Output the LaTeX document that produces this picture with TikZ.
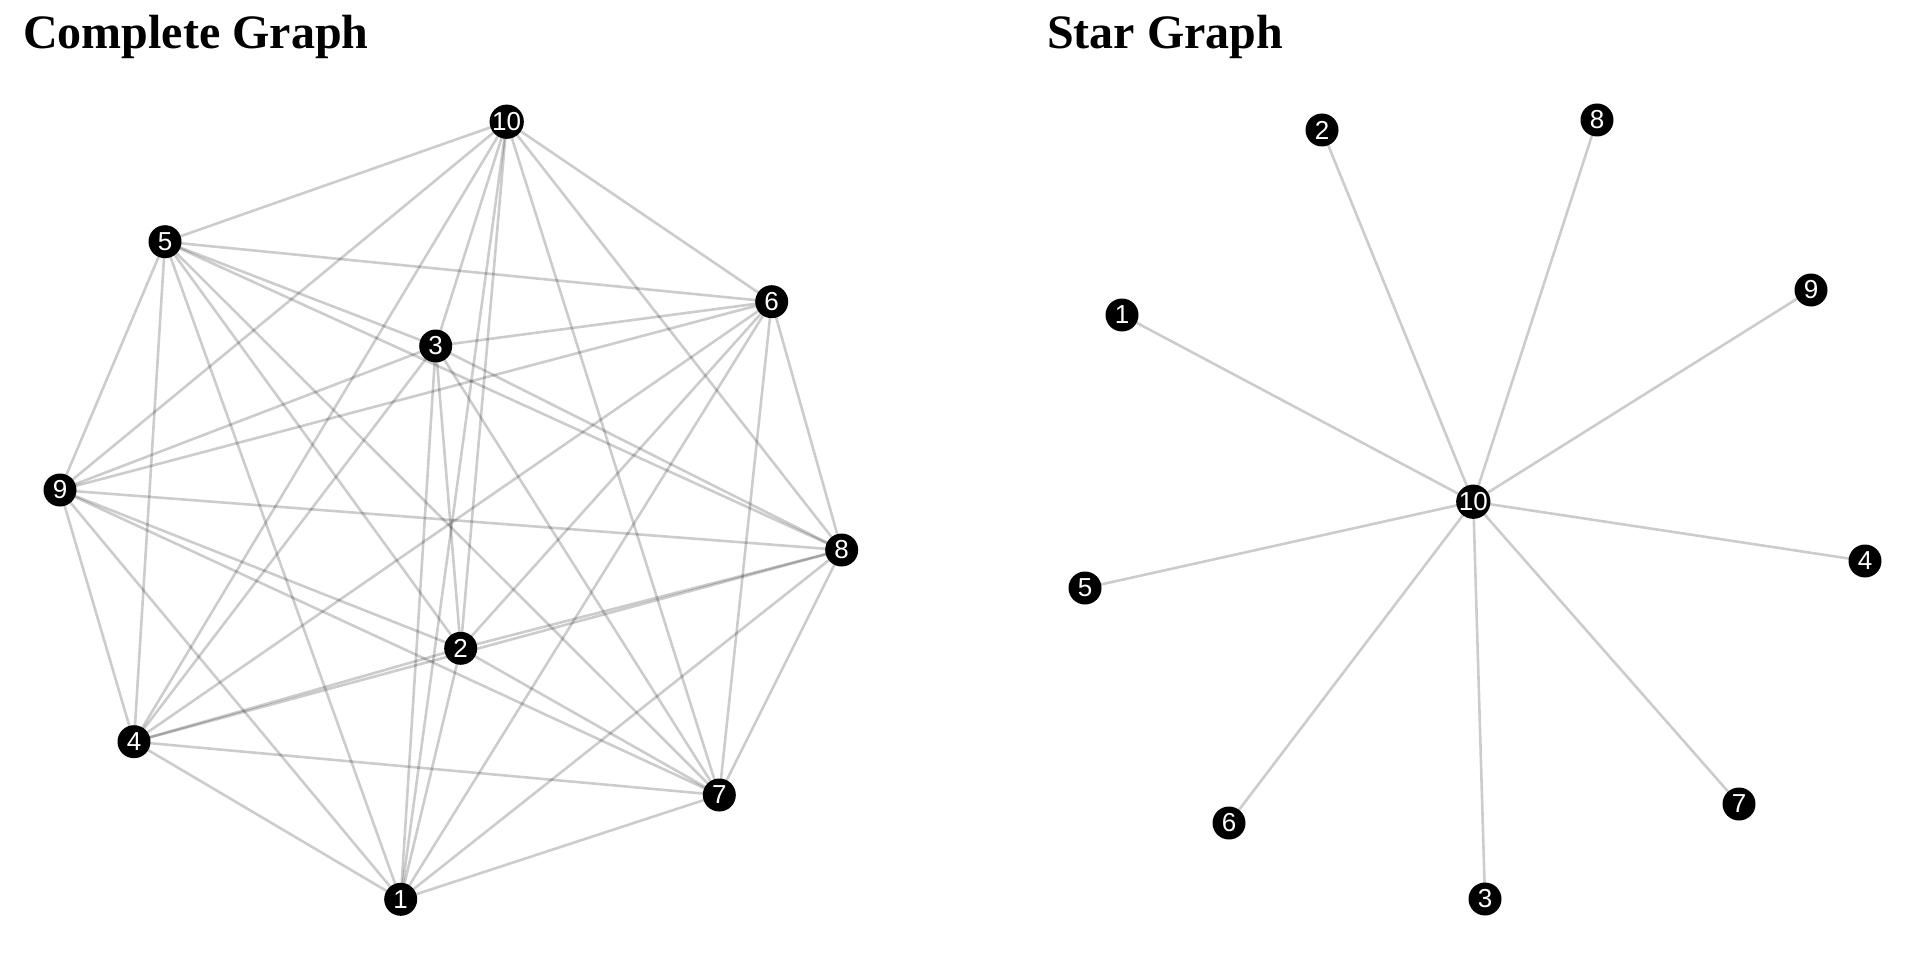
\documentclass[tikz,border=0pt]{standalone}
\usepackage{fontspec}
\setmainfont{Liberation Serif}
\setsansfont{Liberation Sans}
\usetikzlibrary{backgrounds}
\tikzset{
  vtx/.style={circle,fill=black,text=white,inner sep=0pt,minimum size=33pt,font=\sffamily\fontsize{26}{26}\selectfont},
  edge/.style={draw=black,draw opacity=0.2,line width=2.6pt},
  ttl/.style={anchor=base west,inner sep=0pt,font=\bfseries\fontsize{48}{48}\selectfont}
}
\begin{document}
\begin{tikzpicture}[x=1pt,y=-1pt]
\useasboundingbox (0,0) rectangle (1920,960);
\node[ttl] (t1) at (23,49) {Complete Graph};
\node[ttl] (t2) at (1047,49) {Star Graph};
% complete graph
\node[vtx] (c1) at (400.7,899.3) {1};
\node[vtx] (c2) at (460.7,648.3) {2};
\node[vtx] (c3) at (435.7,346) {3};
\node[vtx] (c4) at (134,741.7) {4};
\node[vtx] (c5) at (165,241.7) {5};
\node[vtx] (c6) at (771.7,301.7) {6};
\node[vtx] (c7) at (719.3,795) {7};
\node[vtx] (c8) at (841.7,550) {8};
\node[vtx] (c9) at (60,490) {9};
\node[vtx] (c10) at (506.7,121.7) {10};
% star graph
\node[vtx] (s1) at (1122,315) {1};
\node[vtx] (s2) at (1322,130) {2};
\node[vtx] (s3) at (1485,899) {3};
\node[vtx] (s4) at (1865,561) {4};
\node[vtx] (s5) at (1085,588) {5};
\node[vtx] (s6) at (1229,823) {6};
\node[vtx] (s7) at (1739,804) {7};
\node[vtx] (s8) at (1597,120) {8};
\node[vtx] (s9) at (1811,290) {9};
\node[vtx] (s10) at (1473.3,501.7) {10};
\begin{scope}[on background layer]
\foreach \i in {1,...,9}{
  \pgfmathtruncatemacro\k{\i+1}
  \foreach \j in {\k,...,10}{
    \draw[edge] (c\i.center) -- (c\j.center);
  }
}
\foreach \i in {1,...,9}{
  \draw[edge] (s10.center) -- (s\i.center);
}
\end{scope}
\end{tikzpicture}
\end{document}
